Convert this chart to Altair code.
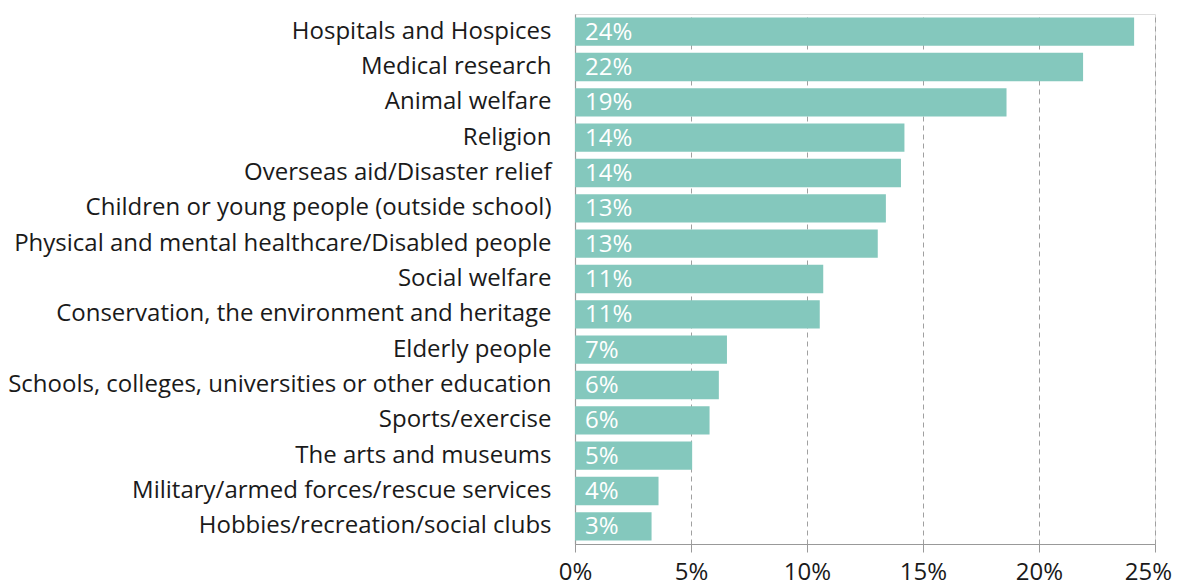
import altair as alt
import pandas as pd

categories = [
    "Hospitals and Hospices",
    "Medical research",
    "Animal welfare",
    "Religion",
    "Overseas aid/Disaster relief",
    "Children or young people (outside school)",
    "Physical and mental healthcare/Disabled people",
    "Social welfare",
    "Conservation, the environment and heritage",
    "Elderly people",
    "Schools, colleges, universities or other education",
    "Sports/exercise",
    "The arts and museums",
    "Military/armed forces/rescue services",
    "Hobbies/recreation/social clubs",
]
values = [24.1, 21.9, 18.6, 14.2, 14.05, 13.4, 13.05, 10.7, 10.55, 6.55, 6.2, 5.8, 5.05, 3.6, 3.3]
tick_values = [0, 0.05, 0.10, 0.15, 0.20, 0.25]

df = pd.DataFrame({"category": categories, "share": [v / 100 for v in values]})

FONT = "Open Sans"
BAR = "#84C8BD"

y = alt.Y(
    "category:N",
    sort=categories,
    title=None,
    scale=alt.Scale(paddingInner=0.2, paddingOuter=0.1),
    axis=alt.Axis(
        ticks=False,
        labelPadding=24,
        labelFontSize=24,
        labelColor="#1a1a1a",
        labelFont=FONT,
        labelLimit=600,
        domainColor="#999999",
        domainWidth=1.2,
    ),
)

bars = alt.Chart(df).mark_bar(color=BAR).encode(
    x=alt.X(
        "share:Q",
        title=None,
        scale=alt.Scale(domain=[0, 0.25], nice=False),
        axis=alt.Axis(
            values=tick_values,
            format=".0%",
            labelFontSize=24,
            labelColor="#1a1a1a",
            labelFont=FONT,
            labelPadding=8,
            labelFlush=False,
            labelOffset=alt.expr("datum.value >= 0.25 ? -7 : 0"),
            tickSize=8,
            tickColor="#999999",
            domainColor="#999999",
            domainWidth=1.2,
            gridColor="#a0a0a0",
            gridDash=[5, 4],
            gridWidth=1,
        ),
    ),
    y=y,
)

labels = alt.Chart(df).mark_text(
    align="left", baseline="middle", dx=10, dy=1, color="white", fontSize=24, font=FONT
).encode(
    x=alt.datum(0),
    y=alt.Y("category:N", sort=categories),
    text=alt.Text("share:Q", format=".0%"),
)

chart = (
    (bars + labels)
    .properties(
        width=580,
        height=530,
        autosize=alt.AutoSizeParams(type="none"),
        padding={"left": 567, "top": 6, "right": 18, "bottom": 42},
    )
    .configure_view(stroke=None)
    .configure(font=FONT)
)

chart.save("out.html", embed_options={"renderer": "svg", "actions": False})
